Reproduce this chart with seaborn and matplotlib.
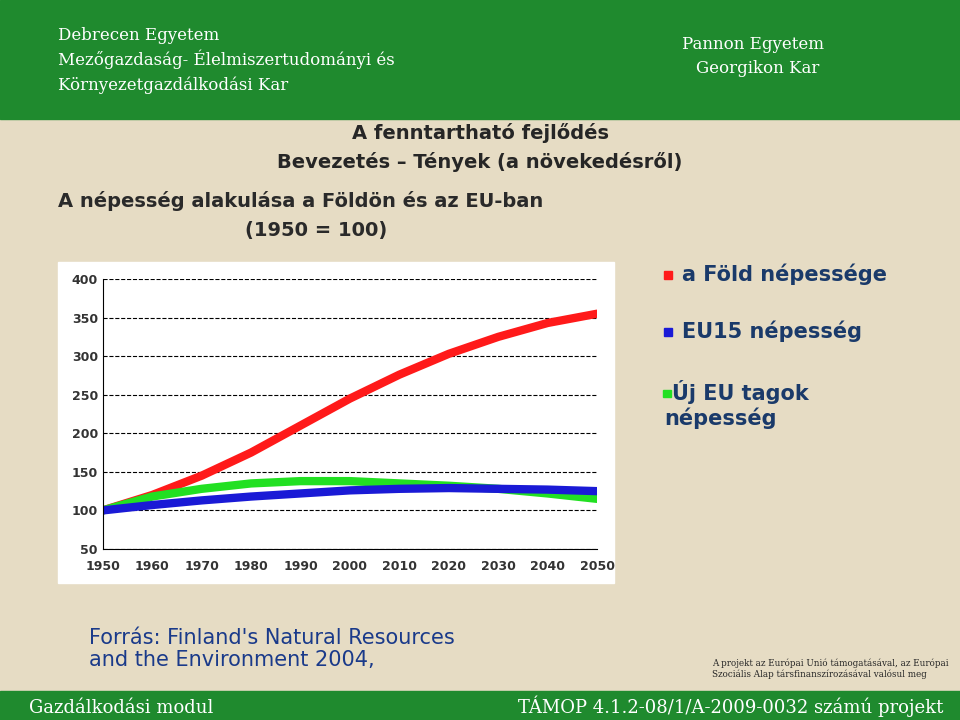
import matplotlib.pyplot as plt
import seaborn as sns
import pandas as pd
from matplotlib.patches import Rectangle

# Chart data (1950 = 100)
years = [1950, 1960, 1970, 1980, 1990, 2000, 2010, 2020, 2030, 2040, 2050]
world = [100, 120, 145, 175, 210, 245, 276, 303, 325, 343, 355]
new_eu = [100, 118, 128, 135, 138, 138, 135, 132, 128, 122, 115]
eu15 = [100, 107, 113, 118, 122, 126, 128, 129, 128, 127, 125]
series_names = ["a Föld népessége", "EU15 népesség", "Új EU tagok"]

df = pd.DataFrame({"year": years * 3,
                   "value": world + new_eu + eu15,
                   "series": ["world"] * 11 + ["new"] * 11 + ["eu15"] * 11})

sns.set_style("white")
fig = plt.figure(figsize=(9.6, 7.2), dpi=100)
fig.patch.set_facecolor("#e6dcc4")

# Top banner and bottom strip
fig.patches.append(Rectangle((0, 0.835), 1, 0.165, transform=fig.transFigure, color="#1f8a2e", zorder=0))
fig.patches.append(Rectangle((0, 0), 1, 0.04, transform=fig.transFigure, color="#1f8a2e", zorder=0))
fig.text(0.06, 0.945, "Debrecen Egyetem", color="white", fontsize=12, family="DejaVu Serif")
fig.text(0.06, 0.91, "Mezőgazdaság- Élelmiszertudományi és", color="white", fontsize=12, family="DejaVu Serif")
fig.text(0.06, 0.875, "Környezetgazdálkodási Kar", color="white", fontsize=12, family="DejaVu Serif")
fig.text(0.71, 0.932, "Pannon Egyetem", color="white", fontsize=12, family="DejaVu Serif")
fig.text(0.725, 0.898, "Georgikon Kar", color="white", fontsize=12, family="DejaVu Serif")
fig.text(0.03, 0.01, "Gazdálkodási modul", color="white", fontsize=13, family="DejaVu Serif")
fig.text(0.54, 0.01, "TÁMOP 4.1.2-08/1/A-2009-0032 számú projekt", color="white", fontsize=13, family="DejaVu Serif")

# Titles
fig.text(0.5, 0.807, "A fenntartható fejlődés", ha="center", fontsize=14, weight="bold")
fig.text(0.5, 0.766, "Bevezetés – Tények (a növekedésről)", ha="center", fontsize=14, weight="bold")
fig.text(0.06, 0.713, "A népesség alakulása a Földön és az EU-ban", fontsize=14, weight="bold", color="#2a2a2a")
fig.text(0.255, 0.672, "(1950 = 100)", fontsize=14, weight="bold", color="#2a2a2a")

# White chart panel
fig.patches.append(Rectangle((0.06, 0.19), 0.58, 0.446, transform=fig.transFigure, color="white", zorder=1))

ax = fig.add_axes([0.107, 0.2375, 0.515, 0.375], zorder=2)
ax.set_facecolor("white")
palette = {"world": "#ff1a1a", "new": "#22e022", "eu15": "#1a1ad6"}
sns.lineplot(data=df, x="year", y="value", hue="series", palette=palette,
             linewidth=6, ax=ax, legend=False)
ax.set_xlim(1950, 2050)
ax.set_ylim(50, 400)
ax.set_xticks(years)
ax.set_yticks(range(50, 401, 50))
ax.tick_params(labelsize=9, length=0)
ax.tick_params(axis="x", pad=8)
for lab in ax.get_xticklabels() + ax.get_yticklabels():
    lab.set_fontweight("bold")
    lab.set_color("#333333")
ax.grid(axis="y", linestyle="--", color="black", linewidth=0.8)
ax.set_xlabel("")
ax.set_ylabel("")
for s in ["top", "right"]:
    ax.spines[s].set_visible(False)
ax.spines["left"].set_color("black")
ax.spines["bottom"].set_color("black")

# Legend as text
legend_colors = ["#ff1a1a", "#1a1ad6", "#22e022"]
legend_y = [0.61, 0.53, 0.445]
legend_x = [0.71, 0.71, 0.700]
for name, c, x, y in zip(series_names, legend_colors, legend_x, legend_y):
    fig.patches.append(Rectangle((x - 0.018 if x > 0.705 else x - 0.009, y + 0.003), 0.008, 0.011,
                                 transform=fig.transFigure, color=c, zorder=3))
    fig.text(x, y, name, fontsize=15, weight="bold", color="#1a3a6a")
fig.text(0.692, 0.41, "népesség", fontsize=15, weight="bold", color="#1a3a6a")

fig.text(0.093, 0.075, "Forrás: Finland's Natural Resources\nand the Environment 2004,",
         fontsize=15, color="#1a3a8a", linespacing=1.15)
fig.text(0.742, 0.06, "A projekt az Európai Unió támogatásával, az Európai\nSzociális Alap társfinanszírozásával valósul meg",
         fontsize=6.3, family="DejaVu Serif")

fig.savefig("out.png", dpi=100, facecolor=fig.get_facecolor())
